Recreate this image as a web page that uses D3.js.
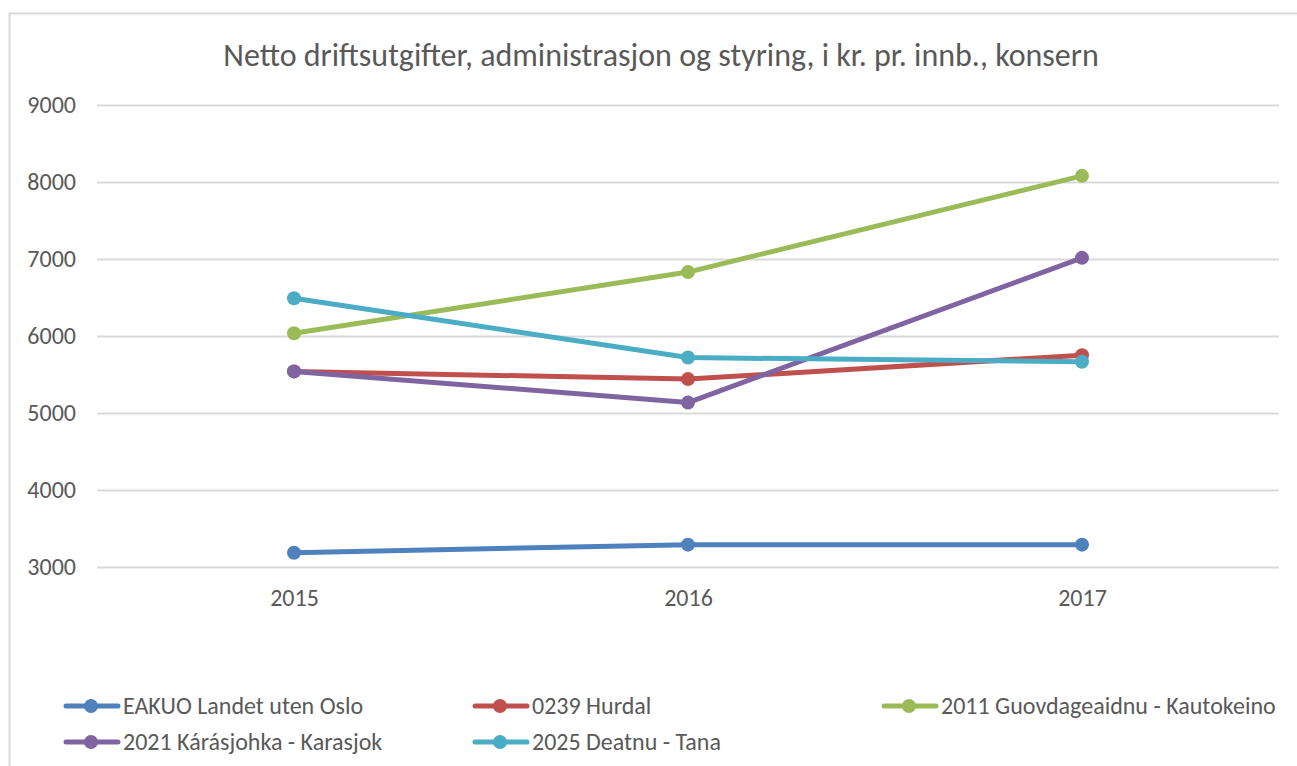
<!DOCTYPE html>
<html lang='no'>
  <meta charset='utf-8'>
  <style>
    body{
      margin: 0;
      background: #fff;
    }
    svg{
      display: block;
      font-family: Carlito, Calibri, Lato, sans-serif;
    }
  </style>
  <body>
    <svg id='chart' width='1297' height='766'></svg>

    <script src='https://d3js.org/d3.v7.min.js'></script>
    <script>
      // data
      const title = 'Netto driftsutgifter, administrasjon og styring, i kr. pr. innb., konsern'
      const years = ['2015', '2016', '2017']
      const seriesNames = [
        'EAKUO Landet uten Oslo',
        '0239 Hurdal',
        '2011 Guovdageaidnu - Kautokeino',
        '2021 Kárásjohka - Karasjok',
        '2025 Deatnu - Tana'
      ]
      const eakuo = [3185, 3290, 3290]
      const hurdal = [5540, 5440, 5750]
      const kautokeino = [6035, 6830, 8080]
      const karasjok = [5540, 5135, 7015]
      const tana = [6490, 5720, 5665]
      const yTicks = [3000, 4000, 5000, 6000, 7000, 8000, 9000]
      const colors = ['#4f81bd', '#c0504d', '#9bbb59', '#8064a2', '#4bacc6']

      const allValues = [eakuo, hurdal, kautokeino, karasjok, tana]
      const fontFam = 'Carlito, Calibri, Lato, sans-serif'

      const svg = d3.select('#chart')

      // chart frame
      svg.append('path')
        .attr('d', 'M9.5,766 V13.5 H1297')
        .attr('fill', 'none')
        .attr('stroke', '#d9d9d9')
        .attr('stroke-width', 2)

      svg.append('text')
        .attr('x', 661)
        .attr('y', 66)
        .attr('text-anchor', 'middle')
        .attr('fill', '#595959')
        .style('font-size', '32px')
        .text(title)

      const x = d3.scalePoint()
        .domain(years)
        .range([97, 1279])
        .padding(0.5)

      const y = d3.scaleLinear()
        .domain([3000, 9000])
        .range([567, 105])

      // gridlines + y labels
      const yAxis = svg.append('g')
        .attr('transform', 'translate(97,0)')
        .call(d3.axisLeft(y).tickValues(yTicks).tickFormat(d3.format('d')).tickSize(-1182).tickPadding(21))
      yAxis.select('.domain').remove()
      yAxis.selectAll('.tick line').attr('stroke', '#d9d9d9').attr('stroke-width', 2)
      yAxis.selectAll('.tick text')
        .attr('fill', '#595959')
        .style('font-family', fontFam)
        .style('font-size', '24px')

      const xAxis = svg.append('g')
        .attr('transform', 'translate(0,567)')
        .call(d3.axisBottom(x).tickSize(0).tickPadding(22))
      xAxis.select('.domain').remove()
      xAxis.selectAll('.tick text')
        .attr('fill', '#595959')
        .style('font-family', fontFam)
        .style('font-size', '24px')

      // lines
      const line = d3.line()
        .x((d, i) => x(years[i]))
        .y(d => y(d))

      allValues.forEach((vals, si) => {
        const g = svg.append('g')
        g.append('path')
          .attr('d', line(vals))
          .attr('fill', 'none')
          .attr('stroke', colors[si])
          .attr('stroke-width', 5)
          .attr('stroke-linejoin', 'round')
          .attr('stroke-linecap', 'round')
        g.selectAll('circle')
          .data(vals)
          .join('circle')
          .attr('cx', (d, i) => x(years[i]))
          .attr('cy', d => y(d))
          .attr('r', 7)
          .attr('fill', colors[si])
      })

      // legend
      const legendCols = [64, 473, 882]
      const legendRows = [706, 742]
      seriesNames.forEach((name, i) => {
        const lx = legendCols[i % 3]
        const ly = legendRows[Math.floor(i / 3)]
        const g = svg.append('g').attr('transform', `translate(${lx},${ly})`)
        g.append('line')
          .attr('x1', 2).attr('x2', 54)
          .attr('stroke', colors[i])
          .attr('stroke-width', 5)
          .attr('stroke-linecap', 'round')
        g.append('circle')
          .attr('cx', 27).attr('r', 7)
          .attr('fill', colors[i])
        g.append('text')
          .attr('x', 59)
          .attr('dy', '0.35em')
          .attr('fill', '#595959')
          .style('font-size', '24px')
          .text(name)
      })
    </script>
  </body>
</html>
